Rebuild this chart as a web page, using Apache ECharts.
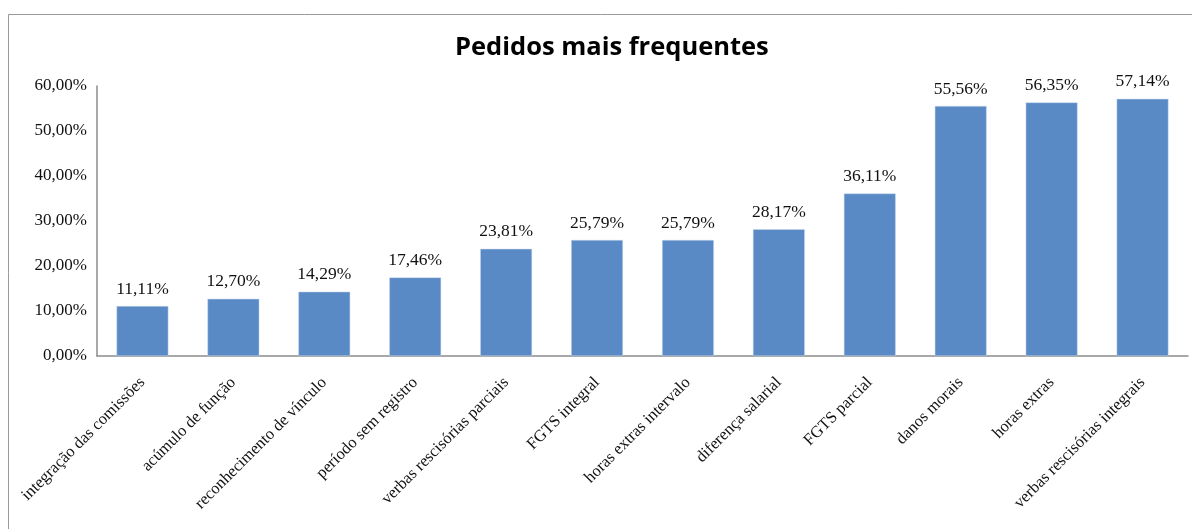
<!DOCTYPE html>
<html>
<head>
<meta charset="utf-8">
<script src="https://cdn.jsdelivr.net/npm/echarts@6/dist/echarts.min.js"></script>
<style>
html,body{margin:0;padding:0;background:#fff;}
#chart{width:1192px;height:529px;}
</style>
</head>
<body>
<div id="chart"></div>
<script>
const titleText = "Pedidos mais frequentes";
const categories = [
  "integração das comissões",
  "acúmulo de função",
  "reconhecimento de vínculo",
  "período sem registro",
  "verbas rescisórias parciais",
  "FGTS integral",
  "horas extras intervalo",
  "diferença salarial",
  "FGTS parcial",
  "danos morais",
  "horas extras",
  "verbas rescisórias integrais"
];
const values = [11.11, 12.70, 14.29, 17.46, 23.81, 25.79, 25.79, 28.17, 36.11, 55.56, 56.35, 57.14];
const yTicks = [0, 10, 20, 30, 40, 50, 60];

const fmt = v => Number(v).toFixed(2).replace('.', ',') + '%';
const serif = '"Liberation Serif", "Times New Roman", serif';

const chart = echarts.init(document.getElementById('chart'));
chart.setOption({
  animation: false,
  backgroundColor: '#fff',
  graphic: [{
    type: 'rect',
    shape: { x: 8.5, y: 14.5, width: 1300, height: 700 },
    style: { fill: 'none', stroke: '#9a9a9a', lineWidth: 1 },
    silent: true, z: -1
  }],
  title: {
    text: titleText,
    left: 450,
    top: 30,
    textStyle: { fontFamily: '"Open Sans", sans-serif', fontWeight: 'bold', fontSize: 25.5, color: '#000' }
  },
  grid: { left: 97, right: 4, top: 86, bottom: 173, containLabel: false },
  xAxis: {
    type: 'category',
    data: categories,
    axisLine: { lineStyle: { color: '#8c8c8c', width: 1.5 } },
    axisTick: { show: false },
    axisLabel: {
      rotate: 45,
      interval: 0,
      margin: 24,
      fontFamily: serif,
      fontSize: 16.5,
      color: '#111'
    }
  },
  yAxis: {
    type: 'value',
    min: yTicks[0],
    max: yTicks[yTicks.length - 1],
    interval: 10,
    splitLine: { show: false },
    axisLine: { show: true, lineStyle: { color: '#8c8c8c', width: 1.5 } },
    axisTick: { show: false },
    axisLabel: {
      formatter: fmt,
      margin: 10,
      fontFamily: serif,
      fontSize: 17,
      color: '#111'
    }
  },
  series: [{
    type: 'bar',
    data: values,
    barCategoryGap: '43%',
    itemStyle: { color: '#5A8AC5', borderColor: '#c9d8ec', borderWidth: 0.5 },
    label: {
      show: true,
      position: 'top',
      distance: 8,
      formatter: p => fmt(p.value),
      fontFamily: serif,
      fontSize: 17.5,
      color: '#111'
    }
  }]
});
</script>
</body>
</html>
